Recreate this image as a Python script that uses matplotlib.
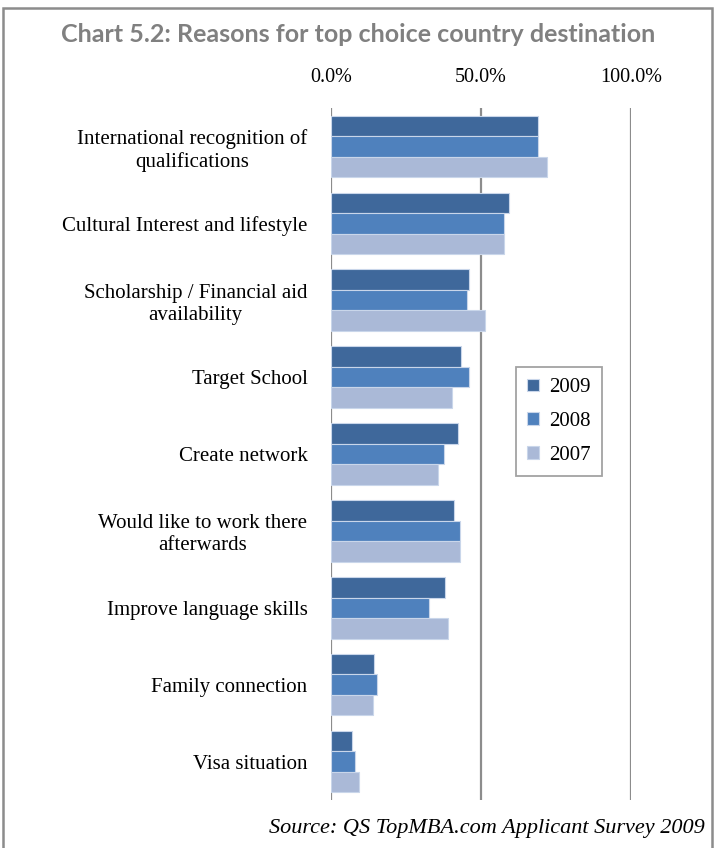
import matplotlib
matplotlib.use("Agg")
from matplotlib import pyplot as plt
from matplotlib.patches import Rectangle
import numpy as np

# survey answers, top to bottom
reasons = ["International recognition of\nqualifications",
           "Cultural Interest and lifestyle",
           "Scholarship / Financial aid\navailability",
           "Target School",
           "Create network",
           "Would like to work there\nafterwards",
           "Improve language skills",
           "Family connection",
           "Visa situation"]
years = ["2009", "2008", "2007"]
share_2009 = [0.690, 0.592, 0.459, 0.434, 0.424, 0.410, 0.381, 0.144, 0.071]
share_2008 = [0.690, 0.577, 0.454, 0.459, 0.376, 0.430, 0.326, 0.154, 0.081]
share_2007 = [0.720, 0.577, 0.513, 0.404, 0.356, 0.430, 0.390, 0.139, 0.094]
xticks = [0.0, 0.5, 1.0]

colors = ["#3f689b", "#4f81bd", "#aab9d7"]
serif = "Liberation Serif"

fig = plt.figure(figsize=(7.15, 8.48), dpi=100)
ax = fig.add_axes([331/715, 1 - 800/848, 300/715, 692/848])

y = np.arange(len(reasons))
h = 0.267
for i, (vals, c) in enumerate(zip([share_2009, share_2008, share_2007], colors)):
    ax.barh(y + (i - 1) * h, vals, height=h, color=c, edgecolor="#c9d6ea",
            linewidth=0.8, label=years[i], zorder=3)

for xv in xticks:
    ax.axvline(xv, color="#8c8c8c", linewidth=1.6, zorder=1)

ax.set_xlim(0, 1.0)
ax.set_ylim(len(reasons) - 0.5, -0.5)
for s in ax.spines.values():
    s.set_visible(False)

ax.xaxis.tick_top()
ax.set_xticks(xticks)
ax.set_xticklabels(["%.1f%%" % (v * 100) for v in xticks], fontsize=14.5,
                   family=serif)
ax.tick_params(axis="x", length=0, pad=15)

ax.set_yticks(y)
ax.set_yticklabels(reasons, fontsize=15, family=serif)
for t in ax.get_yticklabels():
    t.set_multialignment("center")
ax.tick_params(axis="y", length=0, pad=17)

leg = ax.legend(loc="upper left", bbox_to_anchor=(516/715, 1 - 367/848),
                bbox_transform=fig.transFigure, prop={"family": serif, "size": 15},
                frameon=True, fancybox=False, edgecolor="#8c8c8c",
                handlelength=0.55, handleheight=0.55, handletextpad=0.5,
                labelspacing=0.7, borderpad=0.55, borderaxespad=0)
leg.get_frame().set_linewidth(1.3)

fig.text(358/715, 1 - 35/848, "Chart 5.2: Reasons for top choice country destination",
         ha="center", va="center", fontsize=18, fontweight="bold",
         family="Lato", color="#808080")
fig.text(705/715, 1 - 828/848, "Source: QS TopMBA.com Applicant Survey 2009",
         ha="right", va="center", fontsize=16, style="italic", family=serif)

# outer frame, runs off the bottom
fig.patches.append(Rectangle((3/715, -0.05), 709/715, 1.05 - 8/848,
                             transform=fig.transFigure, fill=False,
                             edgecolor="#8c8c8c", linewidth=1.8))

fig.savefig("out.png", dpi=100)
